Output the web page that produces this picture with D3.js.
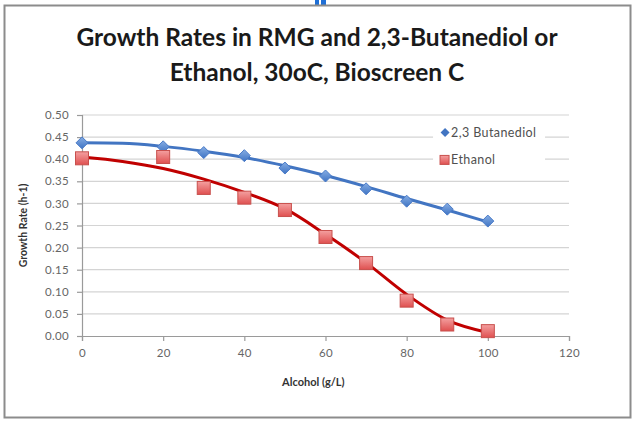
<!DOCTYPE html>
<html>
<head>
<meta charset="utf-8">
<script src="https://cdn.jsdelivr.net/npm/d3@7"></script>
<style>
  body { margin: 0; background: #fff; }
  svg { display: block; }
</style>
</head>
<body>
<svg id="chart"></svg>
<script>
// values
const alcohol = [0, 20, 30, 40, 50, 60, 70, 80, 90, 100];
const butanediol = [0.437, 0.428, 0.415, 0.408, 0.380, 0.362, 0.333, 0.305, 0.287, 0.260];
const ethanol = [0.402, 0.405, 0.335, 0.313, 0.285, 0.224, 0.165, 0.080, 0.026, 0.011];

// trendlines, as drawn in the picture
const trendX = [0, 10, 20, 30, 40, 50, 60, 70, 80, 90, 100];
const butanediolTrend = [0.437, 0.436, 0.429, 0.418, 0.404, 0.385, 0.363, 0.338, 0.311, 0.285, 0.258];
const ethanolTrend = [0.405, 0.395, 0.379, 0.355, 0.325, 0.288, 0.230, 0.166, 0.094, 0.036, 0.008];

const xTicks = [0, 20, 40, 60, 80, 100, 120];
const yTicks = [0, 0.05, 0.10, 0.15, 0.20, 0.25, 0.30, 0.35, 0.40, 0.45, 0.50];

const titleLines = ["Growth Rates in RMG and 2,3-Butanediol or", "Ethanol, 30oC, Bioscreen C"];
const seriesNames = ["2,3 Butanediol", "Ethanol"];

const W = 635, H = 422;
const margin = { top: 115, right: 66, bottom: 86, left: 82 },
    width = W - margin.left - margin.right,
    height = H - margin.top - margin.bottom;

const font = "Lato, 'Open Sans', sans-serif";

const svgRoot = d3.select("#chart").attr("width", W).attr("height", H);

// little blue mark at top edge and the outer frame
svgRoot.append("rect").attr("x", 315).attr("y", 0).attr("width", 4).attr("height", 5).attr("fill", "#1f6fd6");
svgRoot.append("rect").attr("x", 321).attr("y", 0).attr("width", 5).attr("height", 5).attr("fill", "#1f6fd6");
svgRoot.append("rect")
    .attr("x", 4.5).attr("y", 5.5)
    .attr("width", 626).attr("height", 412)
    .attr("fill", "#fff")
    .attr("stroke", "#8c8c8c")
    .attr("stroke-width", 2);

// title
svgRoot.append("g").selectAll("text")
    .data(titleLines)
    .join("text")
    .attr("x", 317)
    .attr("y", (d, i) => 46 + i * 35)
    .attr("text-anchor", "middle")
    .style("font-family", font)
    .style("font-weight", "bold")
    .style("font-size", "24.5px")
    .style("fill", "#1a1a1a")
    .text(d => d);

const svg = svgRoot.append("g")
    .attr("transform", `translate(${margin.left},${margin.top})`);

const x = d3.scaleLinear().domain([0, 120]).range([0, width]);
const y = d3.scaleLinear().domain([0, 0.5]).range([height, 0]);

// gridlines
svg.append("g")
    .selectAll("line")
    .data(yTicks.slice(1))
    .join("line")
    .attr("x1", 0).attr("x2", width)
    .attr("y1", d => y(d)).attr("y2", d => y(d))
    .attr("stroke", "#d4d4d4")
    .attr("stroke-width", 1.2);

// axes
const yAxis = d3.axisLeft(y).tickValues(yTicks).tickFormat(d3.format(".2f")).tickSize(5).tickPadding(8);
const xAxis = d3.axisBottom(x).tickValues(xTicks).tickSize(5).tickPadding(8);

const gy = svg.append("g").call(yAxis);
const gx = svg.append("g").attr("transform", `translate(0,${height})`).call(xAxis);

[gx, gy].forEach(g => {
    g.select(".domain").attr("stroke", "#9a9a9a").attr("stroke-width", 1.2);
    g.selectAll(".tick line").attr("stroke", "#9a9a9a").attr("stroke-width", 1.2);
    g.selectAll(".tick text")
        .style("font-family", font)
        .style("font-size", "11.5px")
        .style("letter-spacing", "0.3px")
        .style("fill", "#666");
});

// axis titles
svg.append("text")
    .attr("transform", "rotate(-90)")
    .attr("x", -height / 2)
    .attr("y", -55)
    .style("text-anchor", "middle")
    .style("font-family", font)
    .style("font-weight", "bold")
    .style("font-size", "10.5px")
    .style("fill", "#333")
    .text("Growth Rate (h-1)");

svg.append("text")
    .attr("x", x(57))
    .attr("y", height + 50)
    .style("text-anchor", "middle")
    .style("font-family", font)
    .style("font-weight", "bold")
    .style("font-size", "11px")
    .style("fill", "#333")
    .text("Alcohol (g/L)");

// legend box (covers gridlines)
const legend = svg.append("g").attr("transform", `translate(${x(86.5)},${y(0.49)})`);
legend.append("rect")
    .attr("x", 0).attr("y", 0)
    .attr("width", 112).attr("height", 52)
    .attr("fill", "#fff");

// trendlines
const line = d3.line()
    .x((d, i) => x(trendX[i]))
    .y(d => y(d))
    .curve(d3.curveMonotoneX);

svg.append("path")
    .datum(butanediolTrend)
    .attr("fill", "none")
    .attr("stroke", "#4275c2")
    .attr("stroke-width", 3)
    .attr("d", line);

svg.append("path")
    .datum(ethanolTrend)
    .attr("fill", "none")
    .attr("stroke", "#c00000")
    .attr("stroke-width", 3)
    .attr("d", line);

// gradients for markers
const defs = svgRoot.append("defs");
const gradRed = defs.append("linearGradient").attr("id", "gRed").attr("x1", 0).attr("y1", 0).attr("x2", 0).attr("y2", 1);
gradRed.append("stop").attr("offset", "0%").attr("stop-color", "#f4a0a0");
gradRed.append("stop").attr("offset", "100%").attr("stop-color", "#df5050");
const gradBlue = defs.append("linearGradient").attr("id", "gBlue").attr("x1", 0).attr("y1", 0).attr("x2", 0).attr("y2", 1);
gradBlue.append("stop").attr("offset", "0%").attr("stop-color", "#86ade3");
gradBlue.append("stop").attr("offset", "100%").attr("stop-color", "#3f74c4");

// square-ish diamond
const diamondPath = r => `M0,${-r}L${r},0L0,${r}L${-r},0Z`;

// markers
svg.append("g")
    .selectAll("path")
    .data(butanediol)
    .join("path")
    .attr("transform", (d, i) => `translate(${x(alcohol[i])},${y(d)})`)
    .attr("d", diamondPath(6))
    .attr("fill", "url(#gBlue)")
    .attr("stroke", "#4a7bc8")
    .attr("stroke-width", 1);

const sq = 13;
svg.append("g")
    .selectAll("rect")
    .data(ethanol)
    .join("rect")
    .attr("x", (d, i) => x(alcohol[i]) - sq / 2)
    .attr("y", d => y(d) - sq / 2)
    .attr("width", sq).attr("height", sq)
    .attr("fill", "url(#gRed)")
    .attr("stroke", "#c8504d")
    .attr("stroke-width", 1);

// legend entries
legend.append("path")
    .attr("transform", "translate(12,13)")
    .attr("d", diamondPath(4.5))
    .attr("fill", "#4275c2");
legend.append("rect")
    .attr("x", 7).attr("y", 36)
    .attr("width", 9).attr("height", 9)
    .attr("fill", "url(#gRed)")
    .attr("stroke", "#c8504d");

legend.selectAll("text.lab")
    .data(seriesNames)
    .join("text")
    .attr("class", "lab")
    .attr("x", 18)
    .attr("y", (d, i) => 17.5 + i * 27)
    .style("font-family", font)
    .style("font-size", "12.5px")
    .style("letter-spacing", "0.4px")
    .style("fill", "#505050")
    .text(d => d);
</script>
</body>
</html>
